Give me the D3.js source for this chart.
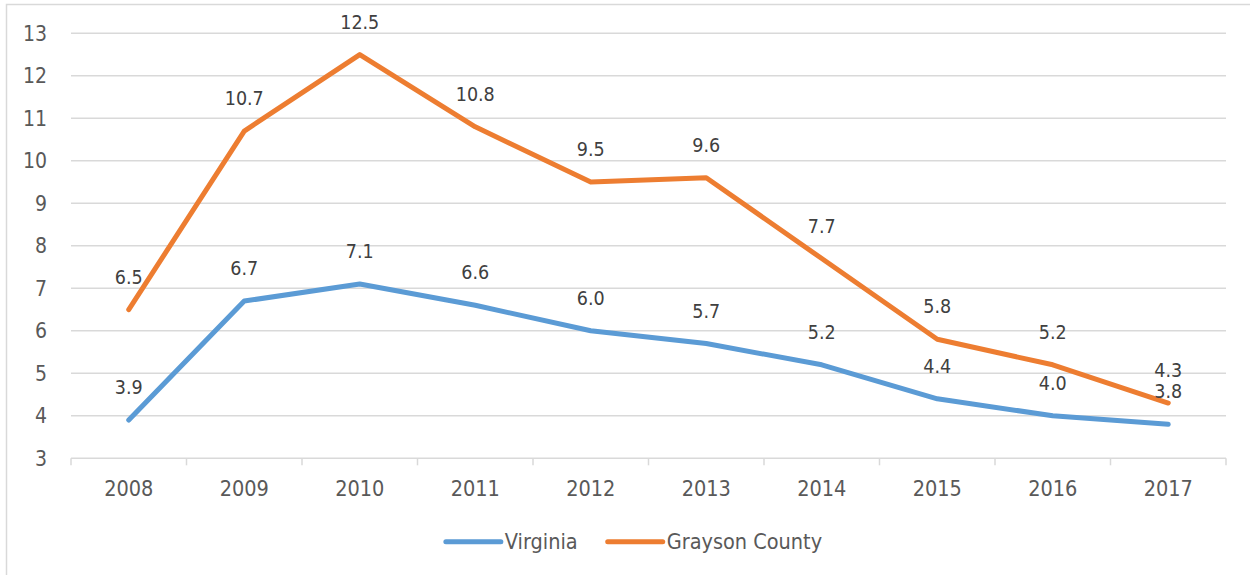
<!DOCTYPE html>
<html lang="en">
<head>
    <meta charset="UTF-8">
    <title>Unemployment Rate: Virginia vs Grayson County</title>
    <script src="https://d3js.org/d3.v7.min.js"></script>
    <style>
        html, body { margin: 0; padding: 0; background: #ffffff; overflow: hidden; }
        svg text {
            font-family: "DejaVu Sans Condensed", "DejaVu Sans", sans-serif;
            font-stretch: condensed;
        }
    </style>
</head>
<body>
    <div id="chart"></div>
    <script>
        // Data
        const years = ["2008", "2009", "2010", "2011", "2012", "2013", "2014", "2015", "2016", "2017"];
        const virginia = [3.9, 6.7, 7.1, 6.6, 6.0, 5.7, 5.2, 4.4, 4.0, 3.8];
        const grayson = [6.5, 10.7, 12.5, 10.8, 9.5, 9.6, 7.7, 5.8, 5.2, 4.3];
        const yTicks = [3, 4, 5, 6, 7, 8, 9, 10, 11, 12, 13];

        const series = [
            { name: "Virginia", values: virginia, color: "#5b9bd5" },
            { name: "Grayson County", values: grayson, color: "#ed7d31" }
        ];

        const width = 1250;
        const height = 575;
        const plot = { left: 71, right: 1226, top: 33.3, bottom: 458.3 };

        const svg = d3.select("#chart")
            .append("svg")
            .attr("width", width)
            .attr("height", height);

        // outer chart frame (runs off the right and bottom)
        svg.append("rect")
            .attr("x", 6.5).attr("y", 4.5)
            .attr("width", 1400).attr("height", 800)
            .attr("fill", "none")
            .attr("stroke", "#d9d9d9")
            .attr("stroke-width", 1.5);

        const x = d3.scaleBand().domain(years).range([plot.left, plot.right]).padding(0);
        const y = d3.scaleLinear().domain([3, 13]).range([plot.bottom, plot.top]);
        const cx = d => x(d) + x.bandwidth() / 2;

        // gridlines
        svg.append("g")
            .selectAll("line")
            .data(yTicks.filter(t => t !== 3))
            .join("line")
            .attr("x1", plot.left).attr("x2", plot.right)
            .attr("y1", d => y(d)).attr("y2", d => y(d))
            .attr("stroke", "#d9d9d9")
            .attr("stroke-width", 1.5);

        // y labels
        svg.append("g")
            .selectAll("text")
            .data(yTicks)
            .join("text")
            .attr("x", 47)
            .attr("y", d => y(d))
            .attr("dy", "0.36em")
            .attr("text-anchor", "end")
            .attr("font-size", 21)
            .attr("fill", "#595959")
            .text(d => d);

        // x axis line and tick marks at category boundaries
        const xAxis = svg.append("g");
        xAxis.append("line")
            .attr("x1", plot.left).attr("x2", plot.right)
            .attr("y1", plot.bottom).attr("y2", plot.bottom)
            .attr("stroke", "#d9d9d9")
            .attr("stroke-width", 1.5);
        xAxis.selectAll(".tick")
            .data(years.map(d => x(d)).concat([plot.right]))
            .join("line")
            .attr("class", "tick")
            .attr("x1", d => d).attr("x2", d => d)
            .attr("y1", plot.bottom).attr("y2", plot.bottom + 7)
            .attr("stroke", "#d9d9d9")
            .attr("stroke-width", 1.5);
        xAxis.selectAll("text")
            .data(years)
            .join("text")
            .attr("x", d => cx(d))
            .attr("y", 496)
            .attr("text-anchor", "middle")
            .attr("font-size", 21.5)
            .attr("fill", "#595959")
            .text(d => d);

        // lines
        const line = d3.line()
            .x((d, i) => cx(years[i]))
            .y(d => y(d));

        svg.append("g")
            .selectAll("path")
            .data(series)
            .join("path")
            .attr("d", d => line(d.values))
            .attr("fill", "none")
            .attr("stroke", d => d.color)
            .attr("stroke-width", 5)
            .attr("stroke-linecap", "round")
            .attr("stroke-linejoin", "round");

        // data labels above each point
        series.forEach(s => {
            svg.append("g")
                .selectAll("text")
                .data(s.values)
                .join("text")
                .attr("x", (d, i) => cx(years[i]))
                .attr("y", d => y(d) - 26)
                .attr("text-anchor", "middle")
                .attr("font-size", 19.5)
                .attr("fill", "#404040")
                .text(d => d.toFixed(1));
        });

        // legend
        const legend = svg.append("g");
        const items = legend.selectAll("g")
            .data(series)
            .join("g");
        items.append("line")
            .attr("x1", 0).attr("x2", 55)
            .attr("y1", 0).attr("y2", 0)
            .attr("stroke", d => d.color)
            .attr("stroke-width", 5)
            .attr("stroke-linecap", "round");
        items.append("text")
            .attr("x", 59)
            .attr("dy", "0.36em")
            .attr("font-size", 21.5)
            .attr("fill", "#595959")
            .text(d => d.name);

        // lay out legend items side by side, centred
        let offset = 0;
        const gap = 30;
        items.each(function () {
            const w = this.getBBox().width;
            d3.select(this).attr("transform", `translate(${offset},0)`);
            offset += w + gap;
        });
        const total = offset - gap;
        legend.attr("transform", `translate(${634 - total / 2},541.7)`);
    </script>
</body>
</html>
